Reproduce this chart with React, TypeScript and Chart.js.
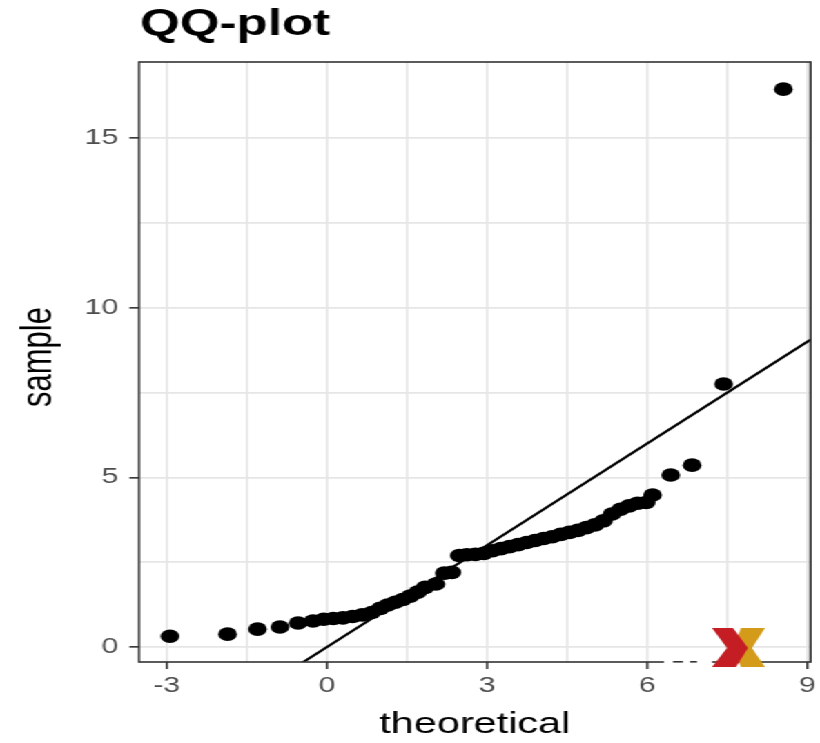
import React, { useEffect, useRef } from "react";
import { Chart, registerables } from "chart.js";

Chart.register(...registerables);

// Theoretical quantiles (x) and ordered sample values (y)
const theoretical = [
  -2.94, -1.86, -1.3, -0.88, -0.54, -0.26, -0.06, 0.12, 0.3, 0.48, 0.66, 0.84, 1.0,
  1.14, 1.28, 1.42, 1.56, 1.7, 1.84, 2.04, 2.2, 2.34, 2.48, 2.62, 2.78, 2.94, 3.1,
  3.26, 3.42, 3.58, 3.74, 3.9, 4.06, 4.22, 4.38, 4.54, 4.7, 4.86, 5.02, 5.18, 5.34,
  5.5, 5.66, 5.82, 5.98, 6.1, 6.44, 6.84, 7.43, 8.55,
];
const sample = [
  0.32, 0.38, 0.53, 0.59, 0.71, 0.77, 0.82, 0.84, 0.86, 0.9, 0.95, 1.02, 1.14,
  1.24, 1.32, 1.4, 1.5, 1.62, 1.76, 1.86, 2.18, 2.2, 2.7, 2.72, 2.73, 2.76, 2.84,
  2.9, 2.96, 3.02, 3.08, 3.14, 3.2, 3.25, 3.32, 3.38, 3.44, 3.52, 3.6, 3.72, 3.92,
  4.06, 4.16, 4.24, 4.26, 4.48, 5.07, 5.36, 7.75, 16.44,
];

// Reference line: sample = slope * theoretical + intercept
const refSlope = 1;
const refIntercept = 0;

// Axis limits and ticks
const xLimits = [-3.52, 9.06];
const yLimits = [-0.44, 17.24];
const xMajorTicks = [-3, 0, 3, 6, 9];
const xGridTicks = [-3, -1.5, 0, 1.5, 3, 4.5, 6, 7.5, 9];
const yMajorTicks = [0, 5, 10, 15];
const yGridTicks = [0, 2.5, 5, 7.5, 10, 12.5, 15];

const chartTitle = "QQ-plot";
const xTitle = "theoretical";
const yTitle = "sample";

const W = 594;
const H = 743;
const STRETCH = 820 / W;
const FONT = '"Liberation Sans", Arial, Helvetica, sans-serif';

const decorations = {
  id: "decorations",
  afterDraw(chart: any) {
    const { ctx, chartArea: a } = chart;
    ctx.save();
    // panel border
    ctx.strokeStyle = "#333333";
    ctx.lineWidth = 1.6;
    ctx.strokeRect(a.left, a.top, a.right - a.left, a.bottom - a.top);

    // titles
    ctx.fillStyle = "#000000";
    ctx.textBaseline = "alphabetic";
    ctx.textAlign = "left";
    ctx.font = `bold 37px ${FONT}`;
    ctx.fillText(chartTitle, 101.4, 35);

    ctx.font = `30px ${FONT}`;
    ctx.textAlign = "center";
    ctx.fillText(xTitle, (a.left + a.right) / 2, 733);

    ctx.save();
    ctx.font = `31px ${FONT}`;
    ctx.translate(36.5, 357);
    ctx.rotate(-Math.PI / 2);
    ctx.fillText(yTitle, 0, 0);
    ctx.restore();

    // corner logo (drawn in page-width units)
    ctx.scale(1 / STRETCH, 1);
    ctx.fillStyle = "#ffffff";
    ctx.fillRect(664, 657, 48, 10);
    ctx.fillStyle = "#333333";
    ctx.fillRect(673, 661, 10, 1.6);
    ctx.fillRect(690, 661, 7, 1.6);

    ctx.fillStyle = "#D49A1A";
    ctx.beginPath();
    ctx.moveTo(741, 628);
    ctx.lineTo(765, 628);
    ctx.lineTo(752, 648);
    ctx.lineTo(765, 667);
    ctx.lineTo(741, 667);
    ctx.lineTo(733, 648);
    ctx.closePath();
    ctx.fill();

    ctx.fillStyle = "#C41E24";
    ctx.beginPath();
    ctx.moveTo(712, 628);
    ctx.lineTo(733, 628);
    ctx.lineTo(748, 648);
    ctx.lineTo(736, 667);
    ctx.lineTo(712, 667);
    ctx.lineTo(727, 648);
    ctx.closePath();
    ctx.fill();
    ctx.restore();
  },
};

export default function App() {
  const canvasRef = useRef<HTMLCanvasElement | null>(null);

  useEffect(() => {
    if (!canvasRef.current) return;
    const points = theoretical.map((x, i) => ({ x, y: sample[i] }));
    const refLine = xLimits.map((x) => ({ x, y: refSlope * x + refIntercept }));

    const chart = new Chart(canvasRef.current, {
      type: "scatter",
      data: {
        datasets: [
          {
            type: "line",
            data: refLine,
            borderColor: "#000000",
            borderWidth: 2.2,
            pointRadius: 0,
            fill: false,
            order: 0,
          },
          {
            type: "scatter",
            data: points,
            backgroundColor: "#000000",
            borderWidth: 0,
            pointRadius: 6.8,
            pointHoverRadius: 6.8,
            order: 1,
          },
        ],
      },
      options: {
        animation: false,
        responsive: false,
        devicePixelRatio: 1,
        layout: { padding: { left: 100.7 - 60, right: 3.6, top: 62, bottom: 0 } },
        plugins: {
          legend: { display: false },
          tooltip: { enabled: false },
          title: { display: false },
        },
        scales: {
          x: {
            type: "linear",
            min: xLimits[0],
            max: xLimits[1],
            afterBuildTicks: (s: any) => {
              s.ticks = xGridTicks.map((v) => ({ value: v }));
            },
            afterFit: (s: any) => {
              s.height = 81;
              s.paddingLeft = 0;
              s.paddingRight = 0;
            },
            border: { display: false },
            grid: {
              color: "#E6E6E6",
              lineWidth: 1.7,
              tickLength: 7,
              tickWidth: 1.6,
              tickColor: (c: any) =>
                c.tick && xMajorTicks.includes(c.tick.value) ? "#333333" : "rgba(0,0,0,0)",
            },
            ticks: {
              autoSkip: false,
              maxRotation: 0,
              padding: 4,
              color: "#4D4D4D",
              font: { size: 22, family: FONT },
              callback: (v: any) => (xMajorTicks.includes(Number(v)) ? String(v) : ""),
            },
          },
          y: {
            type: "linear",
            min: yLimits[0],
            max: yLimits[1],
            afterBuildTicks: (s: any) => {
              s.ticks = yGridTicks.map((v) => ({ value: v }));
            },
            afterFit: (s: any) => {
              s.width = 60;
              s.paddingTop = 0;
              s.paddingBottom = 0;
            },
            border: { display: false },
            grid: {
              color: "#E6E6E6",
              lineWidth: 1.7,
              tickLength: 7,
              tickWidth: 1.6,
              tickColor: (c: any) =>
                c.tick && yMajorTicks.includes(c.tick.value) ? "#333333" : "rgba(0,0,0,0)",
            },
            ticks: {
              autoSkip: false,
              padding: 8,
              color: "#4D4D4D",
              font: { size: 22, family: FONT },
              callback: (v: any) => (yMajorTicks.includes(Number(v)) ? String(v) : ""),
            },
          },
        },
      },
      plugins: [decorations],
    });
    return () => chart.destroy();
  }, []);

  return (
    <div
      style={{
        position: "fixed",
        left: 0,
        top: 0,
        width: W,
        height: H,
        background: "#ffffff",
        transform: `scaleX(${STRETCH})`,
        transformOrigin: "0 0",
      }}
    >
      <canvas ref={canvasRef} width={W} height={H} style={{ display: "block" }} />
    </div>
  );
}
